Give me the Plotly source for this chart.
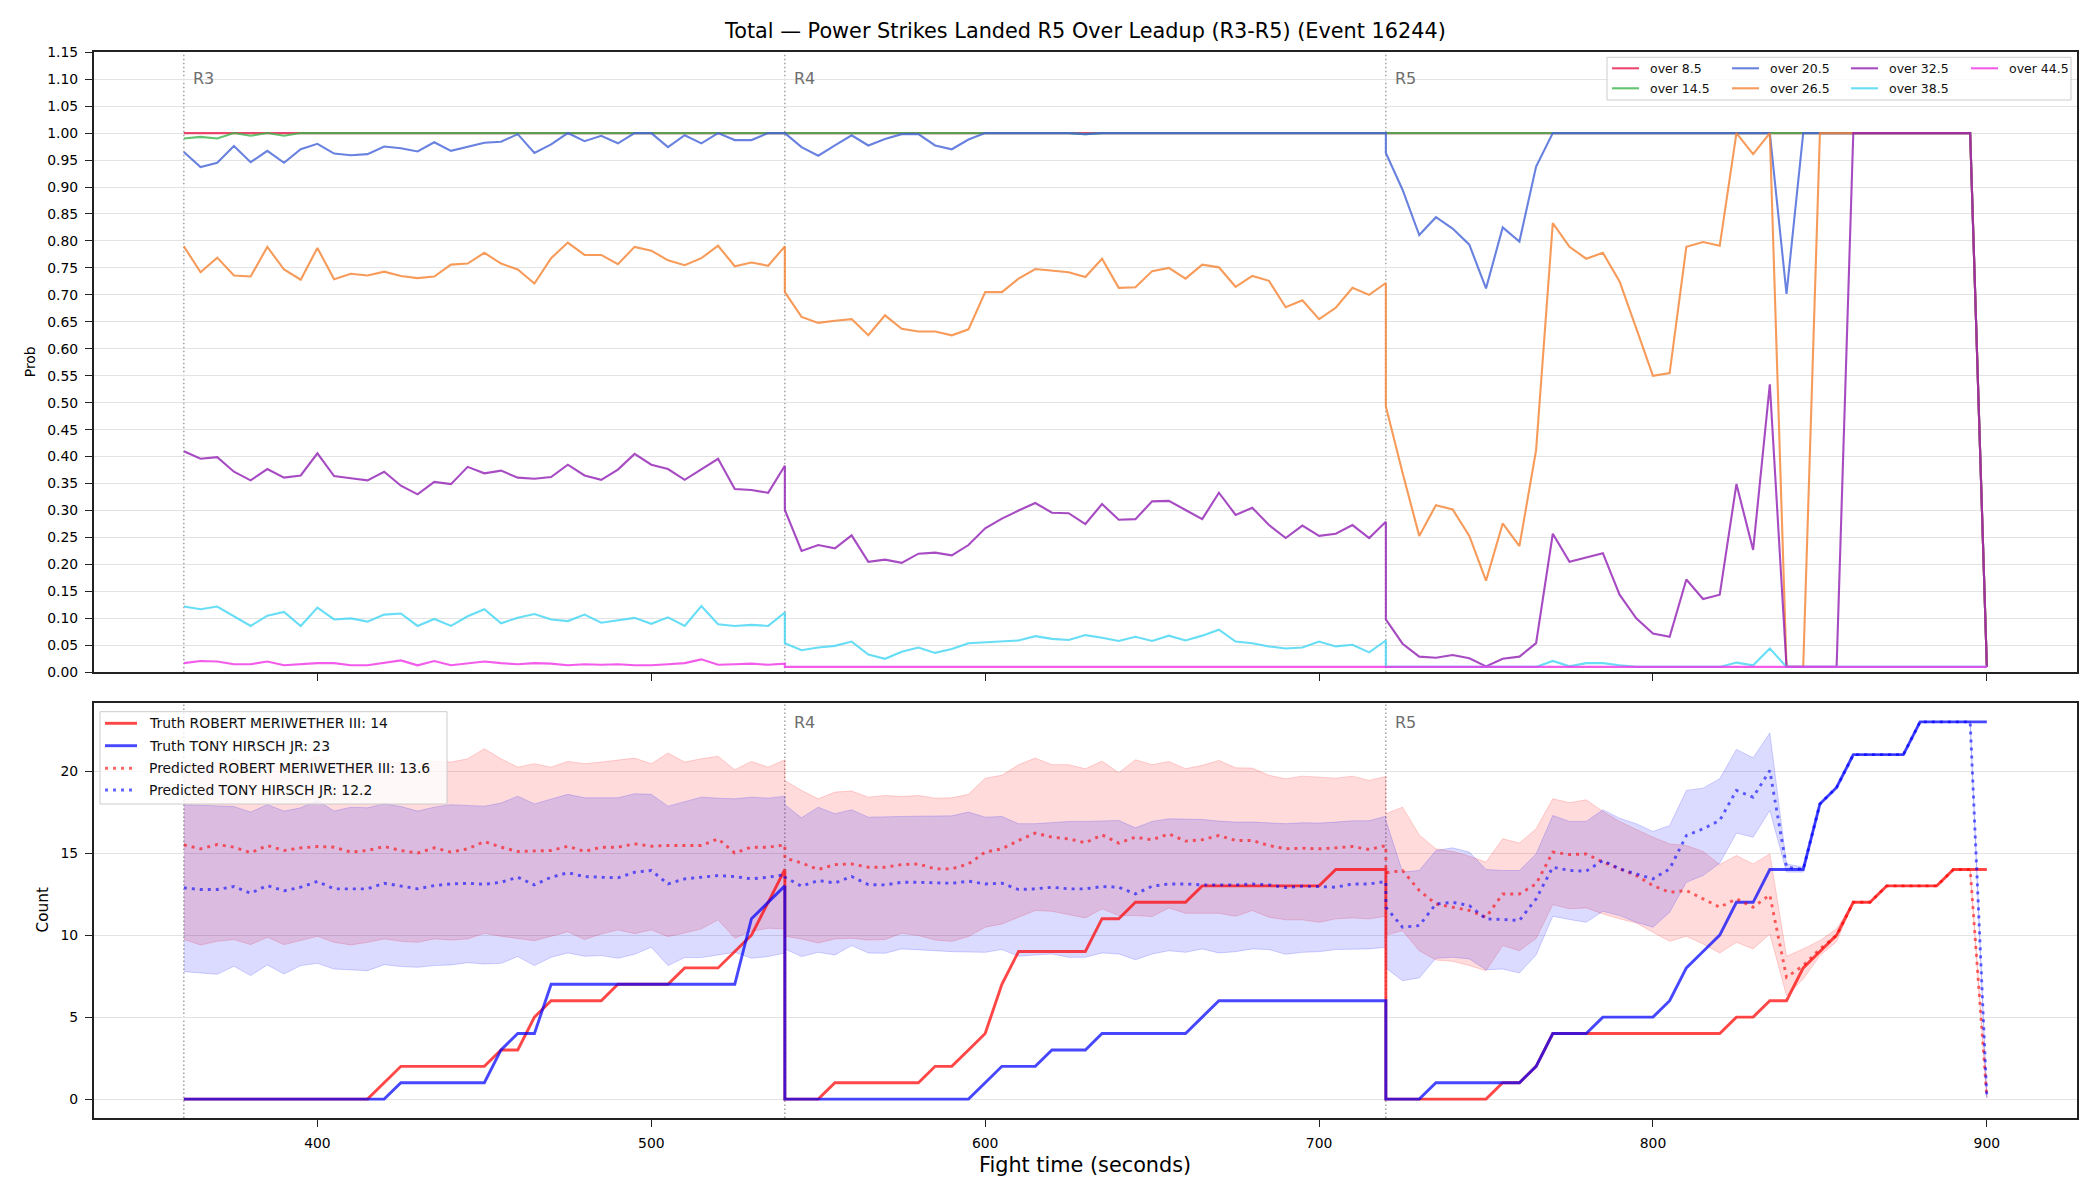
import plotly.graph_objects as go

# ---------------- data ----------------
ROUND_STARTS = [360, 540, 720]
ROUND_NAMES = ["R3", "R4", "R5"]
STEP = 5
N_PER_ROUND = 37
times = [s + STEP * k for s in ROUND_STARTS for k in range(N_PER_ROUND)]

TITLE = "Total \u2014 Power Strikes Landed R5 Over Leadup (R3-R5) (Event 16244)"

# probability of "over X" lines (R3 | R4 | R5)
over_8_5 = [1.0] * 37 + [1.0] * 37 + [1.0] * 36 + [0.01]
over_14_5 = ([0.99, 0.993, 0.99, 1.0, 0.995, 1.0, 0.995, 1.0] + [1.0] * 29
             + [1.0] * 18 + [0.998] + [1.0] * 18
             + [1.0] * 36 + [0.01])
over_20_5 = ([0.965, 0.937, 0.945, 0.976, 0.946, 0.967, 0.945, 0.970, 0.980, 0.962, 0.959, 0.961,
              0.975, 0.972, 0.966, 0.983, 0.967, 0.975, 0.982, 0.984, 0.998, 0.963, 0.979, 1.0,
              0.985, 0.995, 0.981, 1.0, 1.0, 0.974, 0.996, 0.981, 1.0, 0.987, 0.987, 1.0, 1.0]
             + [1.0, 0.974, 0.958, 0.977, 0.996, 0.977, 0.989, 0.998, 0.998, 0.977, 0.970, 0.988,
                1.0, 1.0, 1.0, 1.0, 1.0, 1.0, 0.998] + [1.0] * 18
             + [0.963, 0.895, 0.811, 0.844, 0.823, 0.793, 0.712, 0.825, 0.799, 0.938]
             + [1.0] * 14 + [0.702] + [1.0] * 11 + [0.01])
over_26_5 = ([0.790, 0.742, 0.769, 0.736, 0.734, 0.789, 0.747, 0.728, 0.787, 0.729, 0.739, 0.736,
              0.743, 0.735, 0.731, 0.734, 0.756, 0.758, 0.778, 0.758, 0.747, 0.721, 0.768, 0.797,
              0.774, 0.774, 0.757, 0.789, 0.782, 0.764, 0.755, 0.768, 0.791, 0.753, 0.760, 0.754, 0.790]
             + [0.705, 0.659, 0.648, 0.652, 0.655, 0.625, 0.662, 0.637, 0.632, 0.632, 0.625, 0.636,
                0.705, 0.705, 0.730, 0.748, 0.745, 0.742, 0.733, 0.767, 0.713, 0.714, 0.744, 0.750,
                0.730, 0.756, 0.751, 0.715, 0.735, 0.726, 0.677, 0.690, 0.655, 0.676, 0.713, 0.700, 0.722]
             + [0.493, 0.370, 0.253, 0.310, 0.302, 0.253, 0.170, 0.276, 0.234, 0.412, 0.833, 0.789,
                0.767, 0.778, 0.725, 0.638, 0.550, 0.555, 0.789, 0.798, 0.791, 1.0, 0.961, 1.0,
                0.01, 0.01, 1.0] + [1.0] * 9 + [0.01])
over_32_5 = ([0.410, 0.396, 0.399, 0.372, 0.356, 0.377, 0.361, 0.365, 0.406, 0.364, 0.360, 0.356,
              0.372, 0.346, 0.330, 0.353, 0.349, 0.381, 0.369, 0.374, 0.361, 0.359, 0.362, 0.385,
              0.365, 0.357, 0.376, 0.405, 0.385, 0.377, 0.357, 0.376, 0.396, 0.340, 0.338, 0.333, 0.383]
             + [0.301, 0.225, 0.236, 0.230, 0.254, 0.205, 0.209, 0.203, 0.220, 0.222, 0.217, 0.236,
                0.267, 0.285, 0.300, 0.314, 0.296, 0.295, 0.275, 0.312, 0.283, 0.284, 0.317, 0.318,
                0.301, 0.284, 0.333, 0.292, 0.305, 0.273, 0.249, 0.272, 0.253, 0.257, 0.273, 0.249, 0.279]
             + [0.098, 0.053, 0.029, 0.027, 0.032, 0.026, 0.011, 0.025, 0.029, 0.054, 0.257, 0.205,
                0.213, 0.221, 0.144, 0.100, 0.072, 0.066, 0.172, 0.136, 0.144, 0.349, 0.227, 0.534,
                0.01, 0.01, 0.01, 0.01, 1.0] + [1.0] * 7 + [0.01])
over_38_5 = ([0.122, 0.117, 0.122, 0.104, 0.086, 0.105, 0.112, 0.086, 0.120, 0.098, 0.100, 0.094,
              0.107, 0.109, 0.086, 0.099, 0.086, 0.104, 0.117, 0.091, 0.101, 0.108, 0.098, 0.095,
              0.107, 0.092, 0.096, 0.101, 0.090, 0.102, 0.086, 0.123, 0.089, 0.086, 0.088, 0.086, 0.111]
             + [0.054, 0.041, 0.046, 0.049, 0.057, 0.033, 0.025, 0.038, 0.046, 0.036, 0.043, 0.054,
                0.056, 0.057, 0.059, 0.067, 0.062, 0.060, 0.069, 0.064, 0.058, 0.066, 0.058, 0.068,
                0.059, 0.068, 0.079, 0.057, 0.054, 0.048, 0.044, 0.046, 0.057, 0.048, 0.051, 0.037, 0.059]
             + [0.01] * 10 + [0.021, 0.011, 0.017, 0.017, 0.013] + [0.01] * 6
             + [0.018, 0.013, 0.044] + [0.01] * 13)
over_44_5 = ([0.017, 0.021, 0.020, 0.015, 0.015, 0.020, 0.013, 0.015, 0.017, 0.017, 0.013, 0.013,
              0.018, 0.022, 0.013, 0.021, 0.013, 0.017, 0.020, 0.017, 0.015, 0.017, 0.016, 0.013,
              0.015, 0.014, 0.015, 0.013, 0.013, 0.015, 0.017, 0.024, 0.014, 0.015, 0.016, 0.014, 0.016]
             + [0.01] * 37 + [0.01] * 37)

PROB_LABELS = ["over 8.5", "over 14.5", "over 20.5", "over 26.5", "over 32.5", "over 38.5", "over 44.5"]
PROB_SERIES = [over_8_5, over_14_5, over_20_5, over_26_5, over_32_5, over_38_5, over_44_5]
PROB_COLORS = ["rgba(230,25,75,0.8)", "rgba(60,180,75,0.8)", "rgba(67,99,216,0.8)",
               "rgba(245,130,49,0.8)", "rgba(145,30,180,0.8)", "rgba(66,212,244,0.8)",
               "rgba(240,50,230,0.8)"]

# counts
truth_red = ([0] * 12 + [1] + [2] * 6 + [3, 3, 5] + [6] * 4 + [7] * 4 + [8] * 3 + [9, 10, 12, 14]
             + [0] * 3 + [1] * 6 + [2, 2, 3, 4, 7] + [9] * 5 + [11, 11] + [12] * 4 + [13] * 8 + [14] * 4
             + [0] * 7 + [1, 1, 2] + [4] * 11 + [5, 5, 6, 6, 8, 9, 10, 12, 12] + [13] * 4 + [14] * 3)
truth_blue = ([0] * 13 + [1] * 6 + [3, 4, 4] + [7] * 12 + [11, 12, 13]
              + [0] * 12 + [1] + [2] * 3 + [3] * 3 + [4] * 6 + [5] + [6] * 11
              + [0] * 3 + [1] * 6 + [2] + [4] * 3 + [5] * 4 + [6, 8, 9, 10, 12, 12] + [14] * 3
              + [18, 19] + [21] * 4 + [23] * 5)
pred_red = ([15.5, 15.26, 15.52, 15.36, 15.02, 15.46, 15.16, 15.32, 15.4, 15.36, 15.06, 15.16, 15.4,
             15.16, 15.0, 15.32, 15.06, 15.26, 15.7, 15.36, 15.1, 15.12, 15.16, 15.42, 15.1, 15.36,
             15.36, 15.56, 15.42, 15.46, 15.44, 15.46, 15.87, 15.0, 15.36, 15.36, 15.5]
            + [14.7, 14.4, 14.0, 14.3, 14.34, 14.14, 14.14, 14.3, 14.34, 14.04, 14.04, 14.34, 15.06,
               15.26, 15.77, 16.22, 15.97, 15.87, 15.63, 16.11, 15.61, 15.97, 15.81, 16.17, 15.73,
               15.81, 16.07, 15.77, 15.77, 15.46, 15.26, 15.3, 15.26, 15.32, 15.4, 15.22, 15.46]
            + [13.8, 13.94, 12.72, 11.9, 11.7, 11.5, 11.09, 12.51, 12.51, 13.12, 15.06, 14.91, 14.95,
               14.45, 14.04, 13.63, 13.02, 12.61, 12.72, 12.21, 11.7, 12.21, 11.7, 12.45, 7.43, 8.14,
               9.16, 9.97, 12.0, 12.0, 13.0, 13.0, 13.0, 13.0, 14.0, 14.0, 0.1])
pred_blue = ([12.88, 12.78, 12.78, 12.96, 12.55, 13.02, 12.7, 12.92, 13.27, 12.82, 12.82, 12.82, 13.16,
              12.98, 12.82, 13.02, 13.12, 13.16, 13.1, 13.22, 13.53, 13.06, 13.53, 13.8, 13.57, 13.53,
              13.49, 13.83, 13.94, 13.12, 13.43, 13.53, 13.63, 13.57, 13.43, 13.53, 13.69]
             + [13.53, 12.98, 13.33, 13.18, 13.57, 13.08, 13.06, 13.22, 13.22, 13.18, 13.16, 13.29,
                13.12, 13.16, 12.78, 12.82, 12.92, 12.82, 12.82, 12.96, 12.92, 12.51, 12.98, 13.12,
                13.12, 13.06, 13.06, 13.06, 13.12, 13.06, 12.9, 12.98, 12.96, 12.92, 13.12, 13.12, 13.27]
             + [11.7, 10.48, 10.58, 11.9, 12.0, 11.8, 10.99, 10.95, 10.89, 12.21, 14.14, 13.94, 13.9,
                14.55, 14.04, 13.73, 13.43, 14.04, 16.07, 16.48, 16.99, 18.82, 18.41, 20.04, 14.14,
                14.0, 18.0, 19.0, 21.0, 21.0, 21.0, 21.0, 23.0, 23.0, 23.0, 23.0, 0.1])
red_hi = ([20.6, 20.3, 20.5, 20.7, 20.4, 20.6, 20.3, 20.5, 20.9, 20.4, 20.4, 20.5, 20.6, 20.5, 20.4,
           20.6, 20.55, 20.75, 21.36, 20.75, 20.24, 20.45, 20.24, 20.59, 20.45, 20.55, 20.65, 20.79,
           20.45, 21.1, 20.55, 20.75, 20.9, 20.08, 20.59, 20.24, 20.69]
          + [19.43, 18.82, 18.31, 18.72, 18.78, 18.41, 18.51, 18.45, 18.51, 18.35, 18.37, 18.58, 19.57,
             19.74, 20.39, 20.79, 20.39, 20.39, 20.14, 20.61, 19.9, 20.69, 20.39, 20.59, 20.14, 20.35,
             20.65, 20.2, 20.18, 19.74, 19.53, 19.69, 19.63, 19.57, 19.69, 19.43, 19.67]
          + [17.4, 17.8, 16.11, 15.26, 15.1, 14.81, 14.45, 15.87, 15.61, 16.48, 18.31, 18.07, 18.25,
             17.54, 16.93, 16.44, 15.97, 15.56, 15.46, 15.1, 14.3, 14.85, 14.34, 14.95, 8.71, 9.16,
             9.67, 10.38, 12.0, 12.0, 13.0, 13.0, 13.0, 13.0, 14.0, 14.0, 0.1])
red_lo = ([9.73, 9.4, 9.62, 9.73, 9.42, 9.87, 9.42, 9.68, 9.93, 9.56, 9.4, 9.56, 9.77, 9.62, 9.56, 9.77,
           9.7, 9.77, 10.11, 9.93, 9.81, 9.66, 9.93, 10.21, 9.73, 10.07, 10.32, 10.09, 10.32, 9.91,
           10.13, 10.38, 10.93, 9.81, 10.23, 10.42, 10.38]
          + [9.93, 9.77, 9.52, 9.77, 9.81, 9.7, 9.73, 10.11, 9.97, 9.7, 9.62, 9.91, 10.48, 10.68, 11.09,
             11.5, 11.45, 11.23, 11.05, 11.6, 11.19, 11.19, 11.13, 11.66, 11.33, 11.33, 11.33, 11.15,
             11.5, 11.09, 10.93, 10.93, 10.78, 10.99, 11.05, 10.99, 11.15]
          + [10.0, 10.27, 9.05, 8.48, 8.4, 8.14, 7.83, 9.36, 9.05, 9.79, 11.86, 11.6, 11.66, 11.29,
             10.99, 10.74, 10.17, 9.62, 9.93, 9.46, 8.91, 9.56, 9.16, 10.07, 6.31, 7.32, 8.75, 9.6,
             12.0, 12.0, 13.0, 13.0, 13.0, 13.0, 14.0, 14.0, 0.1])
blue_hi = ([17.95, 17.9, 17.86, 17.84, 17.5, 17.95, 17.56, 17.76, 18.21, 17.56, 17.8, 17.76, 18.0, 17.84,
            17.56, 17.8, 17.95, 17.9, 17.86, 18.05, 18.47, 18.0, 18.31, 18.58, 18.37, 18.37, 18.37,
            18.62, 18.58, 17.86, 18.15, 18.41, 18.35, 18.31, 18.41, 18.35, 18.47]
           + [17.95, 17.15, 17.8, 17.4, 17.64, 17.19, 17.19, 17.23, 17.25, 17.27, 17.27, 17.5, 17.19,
              17.23, 16.79, 16.79, 16.87, 16.93, 16.93, 16.95, 16.99, 16.54, 16.93, 17.09, 17.09, 17.05,
              16.95, 16.89, 16.89, 16.85, 16.79, 16.85, 16.83, 16.89, 16.97, 16.97, 17.25]
           + [17.0, 13.84, 13.94, 15.16, 15.32, 15.06, 14.0, 13.94, 13.94, 14.95, 17.29, 16.93, 16.93,
              17.64, 17.13, 16.79, 16.32, 16.68, 18.82, 18.96, 19.53, 21.32, 20.81, 22.32, 14.34, 14.14,
              18.0, 19.0, 21.0, 21.0, 21.0, 21.0, 23.0, 23.0, 23.0, 23.0, 0.1])
blue_lo = ([7.77, 7.69, 7.61, 8.1, 7.53, 8.18, 7.63, 8.14, 8.28, 7.93, 7.87, 7.83, 8.2, 8.08, 8.04, 8.14,
            8.18, 8.32, 8.24, 8.28, 8.69, 8.14, 8.65, 8.91, 8.71, 8.75, 8.59, 8.83, 9.26, 8.14, 8.63,
            8.63, 8.79, 8.95, 8.59, 8.69, 8.91]
           + [9.16, 8.69, 8.95, 8.79, 9.36, 8.91, 8.89, 9.16, 9.12, 9.05, 8.99, 8.99, 8.95, 9.12, 8.71,
              8.79, 8.85, 8.65, 8.65, 8.91, 8.85, 8.5, 8.85, 9.05, 8.95, 9.16, 8.91, 8.99, 9.16, 9.12,
              8.83, 8.95, 8.99, 9.12, 9.16, 9.16, 9.26]
           + [8.0, 7.22, 7.39, 8.59, 8.65, 8.55, 7.89, 7.93, 7.69, 8.79, 11.15, 10.95, 10.78, 11.45,
              11.19, 10.78, 10.48, 11.39, 13.22, 13.63, 14.38, 16.22, 15.97, 17.6, 13.84, 13.84, 18.0,
              19.0, 21.0, 21.0, 21.0, 21.0, 23.0, 23.0, 23.0, 23.0, 0.1])

COUNT_LABELS = ["Truth ROBERT MERIWETHER III: 14", "Truth TONY HIRSCH JR: 23",
                "Predicted ROBERT MERIWETHER III: 13.6", "Predicted TONY HIRSCH JR: 12.2"]

# ---------------- layout geometry (pixels) ----------------
W, H = 2100, 1200
AX_L, AX_R = 93.7, 2077.0
TOP_T, TOP_B = 52.2, 672.3
BOT_T, BOT_B = 703.0, 1118.0
FONT = "DejaVu Sans"
DOT = "3px,5px"


def px(x):
    return x / W


def py(y):
    return 1 - y / H


fig = go.Figure()

for lab, vals, col in zip(PROB_LABELS, PROB_SERIES, PROB_COLORS):
    fig.add_trace(go.Scatter(x=times, y=vals, mode="lines", name=lab,
                             line=dict(color=col, width=2.1), xaxis="x", yaxis="y",
                             showlegend=False, hoverinfo="skip"))

for lo, hi, rgb in [(red_lo, red_hi, "255,0,0"), (blue_lo, blue_hi, "0,0,255")]:
    fig.add_trace(go.Scatter(x=times, y=lo, mode="lines", line=dict(color=f"rgba({rgb},0.17)", width=1),
                             xaxis="x2", yaxis="y2", showlegend=False, hoverinfo="skip"))
    fig.add_trace(go.Scatter(x=times, y=hi, mode="lines", line=dict(color=f"rgba({rgb},0.17)", width=1),
                             fill="tonexty", fillcolor=f"rgba({rgb},0.14)",
                             xaxis="x2", yaxis="y2", showlegend=False, hoverinfo="skip"))

COUNT_STYLE = [("rgba(255,0,0,0.72)", "solid"), ("rgba(0,0,255,0.72)", "solid"),
               ("rgba(255,0,0,0.6)", DOT), ("rgba(0,0,255,0.6)", DOT)]
for lab, vals, (col, dash) in zip(COUNT_LABELS, [truth_red, truth_blue, pred_red, pred_blue], COUNT_STYLE):
    fig.add_trace(go.Scatter(x=times, y=vals, mode="lines", name=lab,
                             line=dict(color=col, width=2.9, dash=dash),
                             xaxis="x2", yaxis="y2", showlegend=False, hoverinfo="skip"))

shapes = []
annotations = []

# round boundary lines and labels
for s, nm in zip(ROUND_STARTS, ROUND_NAMES):
    for xr, yr in [("x", "y domain"), ("x2", "y2 domain")]:
        shapes.append(dict(type="line", xref=xr, yref=yr, x0=s, x1=s, y0=0, y1=1, layer="below",
                           line=dict(color="#8a8a8a", width=1.2, dash="1.5px,2.5px")))
    annotations.append(dict(x=s + 2, y=1.102, xref="x", yref="y", text=nm, showarrow=False,
                            xanchor="left", yanchor="middle", font=dict(family=FONT, size=16, color="#6e6e6e")))
    if nm != "R3":
        annotations.append(dict(x=s + 2, y=22.95, xref="x2", yref="y2", text=nm, showarrow=False,
                                xanchor="left", yanchor="middle", font=dict(family=FONT, size=16, color="#6e6e6e")))

# top legend (4 columns, column-major)
shapes.append(dict(type="rect", xref="paper", yref="paper", x0=px(1607), x1=px(2071), y0=py(100), y1=py(57.3),
                   line=dict(color="#cccccc", width=1), fillcolor="rgba(255,255,255,0.8)", layer="above"))
col_x = [1612, 1732, 1851, 1971]
row_y = [68.3, 88.3]
for i, (lab, col) in enumerate(zip(PROB_LABELS, PROB_COLORS)):
    c, r = divmod(i, 2)
    x0 = col_x[c]
    y0 = row_y[r]
    shapes.append(dict(type="line", xref="paper", yref="paper", x0=px(x0), x1=px(x0 + 27), y0=py(y0), y1=py(y0),
                       line=dict(color=col, width=2.1), layer="above"))
    annotations.append(dict(x=px(x0 + 36), y=py(y0), xref="paper", yref="paper", text=lab, showarrow=False,
                            xanchor="left", yanchor="middle", font=dict(family=FONT, size=12.5, color="#111")))

# bottom legend
shapes.append(dict(type="rect", xref="paper", yref="paper", x0=px(100), x1=px(447), y0=py(804), y1=py(711.7),
                   line=dict(color="#cccccc", width=1), fillcolor="rgba(255,255,255,0.8)", layer="above"))
brow = [723.3, 745.7, 768.3, 790.0]
for lab, (col, dash), y0 in zip(COUNT_LABELS, COUNT_STYLE, brow):
    shapes.append(dict(type="line", xref="paper", yref="paper", x0=px(105), x1=px(137), y0=py(y0), y1=py(y0),
                       line=dict(color=col, width=2.9, dash=dash), layer="above"))
    annotations.append(dict(x=px(147.3), y=py(y0), xref="paper", yref="paper", text=lab, showarrow=False,
                            xanchor="left", yanchor="middle", font=dict(family=FONT, size=13.9, color="#111")))

# titles
annotations.append(dict(x=px((AX_L + AX_R) / 2), y=py(30.8), xref="paper", yref="paper", text=TITLE,
                        showarrow=False, xanchor="center", yanchor="middle",
                        font=dict(family=FONT, size=20.8, color="#000")))
annotations.append(dict(x=px((AX_L + AX_R) / 2), y=py(1165), xref="paper", yref="paper",
                        text="Fight time (seconds)", showarrow=False, xanchor="center", yanchor="middle",
                        font=dict(family=FONT, size=20.8, color="#000")))
annotations.append(dict(x=px(30), y=py((TOP_T + TOP_B) / 2), xref="paper", yref="paper", text="Prob",
                        textangle=-90, showarrow=False, xanchor="center", yanchor="middle",
                        font=dict(family=FONT, size=13.9, color="#000")))
annotations.append(dict(x=px(42), y=py((BOT_T + BOT_B) / 2), xref="paper", yref="paper", text="Count",
                        textangle=-90, showarrow=False, xanchor="center", yanchor="middle",
                        font=dict(family=FONT, size=15.3, color="#000")))

axis_common = dict(showline=True, linecolor="#222", linewidth=1.7, mirror=True, ticks="outside",
                   ticklen=7, tickwidth=1.2, tickcolor="#222", zeroline=False, automargin=False,
                   tickfont=dict(family=FONT, size=13.9, color="#000"), ticklabelstandoff=4)
xr = [333.0, 927.0]
fig.update_layout(
    width=W, height=H, margin=dict(l=0, r=0, t=0, b=0, pad=0),
    paper_bgcolor="white", plot_bgcolor="white", showlegend=False,
    xaxis=dict(domain=[px(AX_L), px(AX_R)], anchor="y", range=xr, tick0=0, dtick=100,
               showticklabels=False, showgrid=False, **axis_common),
    yaxis=dict(domain=[py(TOP_B), py(TOP_T)], anchor="x", range=[0, 1.15], tick0=0, dtick=0.05,
               tickformat=".2f", showgrid=True, gridcolor="#e3e3e3", gridwidth=1, **axis_common),
    xaxis2=dict(domain=[px(AX_L), px(AX_R)], anchor="y2", range=xr, tick0=0, dtick=100,
                showgrid=False, **axis_common),
    yaxis2=dict(domain=[py(BOT_B), py(BOT_T)], anchor="x2", range=[-1.15, 24.15], tick0=0, dtick=5,
                showgrid=True, gridcolor="#e3e3e3", gridwidth=1, **axis_common),
    shapes=shapes, annotations=annotations,
)

fig.write_html("out.html")
